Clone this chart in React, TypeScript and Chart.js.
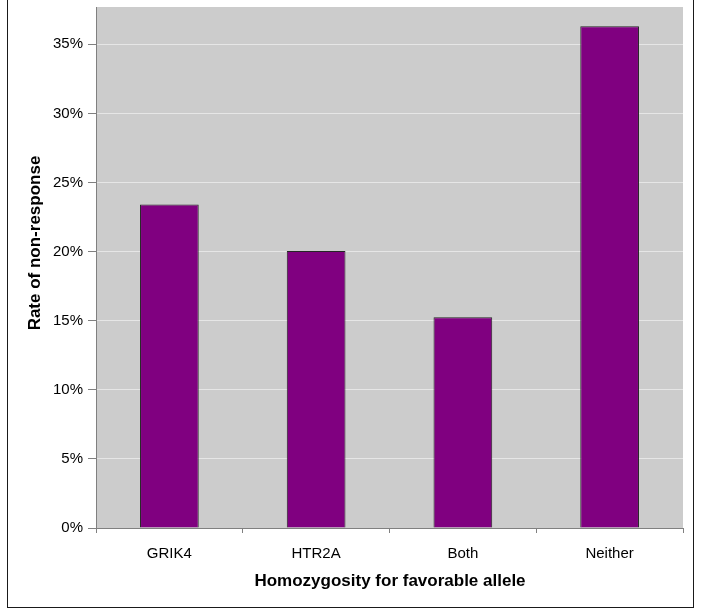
import React, { useEffect, useRef } from "react";
import { Chart, registerables } from "chart.js";

Chart.register(...registerables);

const categories = ["GRIK4", "HTR2A", "Both", "Neither"];
const nonResponseRate = [23.4, 20.05, 15.25, 36.3];
const yTickValues = [0, 5, 10, 15, 20, 25, 30, 35];
const xTitle = "Homozygosity for favorable allele";
const yTitle = "Rate of non-response";

const FONT = "'Liberation Sans', Arial, sans-serif";

const decorPlugin = {
  id: "decor",
  beforeDraw(chart: any) {
    const { ctx, chartArea } = chart;
    ctx.save();
    ctx.fillStyle = "#fff";
    ctx.fillRect(0, 0, chart.width, chart.height);
    ctx.fillStyle = "#cccccc";
    ctx.fillRect(chartArea.left, chartArea.top, chartArea.right - chartArea.left, chartArea.bottom - chartArea.top);
    ctx.restore();
  },
  afterDraw(chart: any) {
    const { ctx } = chart;
    ctx.save();
    ctx.strokeStyle = "#1a1a1a";
    ctx.lineWidth = 1;
    ctx.strokeRect(7.5, -2, 686, 609.5);
    ctx.fillStyle = "#000";
    ctx.font = "bold 17px " + FONT;
    ctx.textAlign = "center";
    ctx.textBaseline = "middle";
    ctx.fillText(xTitle, 390, 581);
    ctx.translate(35, 243);
    ctx.rotate(-Math.PI / 2);
    ctx.fillText(yTitle, 0, 0);
    ctx.restore();
  },
};

export default function App() {
  const ref = useRef<HTMLCanvasElement>(null);
  useEffect(() => {
    if (!ref.current) return;
    const chart = new Chart(ref.current, {
      type: "bar",
      data: {
        labels: categories,
        datasets: [
          {
            data: nonResponseRate,
            backgroundColor: "#800080",
            borderColor: "#262626",
            borderWidth: 1,
            barPercentage: 0.4,
            categoryPercentage: 1,
          },
        ],
      },
      options: {
        animation: false,
        responsive: false,
        devicePixelRatio: 1,
        layout: { padding: { top: 7, right: 18, left: 0, bottom: 0 } },
        plugins: { legend: { display: false }, tooltip: { enabled: false } },
        scales: {
          x: {
            afterFit: (s: any) => {
              s.height = 88;
              s.paddingLeft = 0;
              s.paddingRight = 0;
            },
            grid: {
              offset: true,
              drawOnChartArea: false,
              drawTicks: true,
              tickLength: 5,
              tickColor: "#808080",
            },
            border: { color: "#808080", width: 1 },
            ticks: { color: "#000", padding: 12, font: { family: FONT, size: 15 } },
          },
          y: {
            min: 0,
            max: 37.7,
            afterFit: (s: any) => {
              s.width = 96;
              s.paddingTop = 0;
              s.paddingBottom = 0;
            },
            afterBuildTicks: (s: any) => {
              s.ticks = yTickValues.map((v) => ({ value: v }));
            },
            grid: {
              color: (c: any) => (c.tick && c.tick.value === 0 ? "rgba(0,0,0,0)" : "#e6e6e6"),
              tickColor: "#808080",
              tickLength: 8,
            },
            border: { color: "#808080", width: 1 },
            ticks: {
              color: "#000",
              padding: 5,
              font: { family: FONT, size: 15 },
              callback: (v: any) => v + "%",
            },
          },
        },
      },
      plugins: [decorPlugin],
    });
    return () => chart.destroy();
  }, []);
  return (
    <div style={{ position: "absolute", left: 0, top: 0, width: 701, height: 616, background: "#fff" }}>
      <canvas ref={ref} width={701} height={616} style={{ display: "block" }} />
    </div>
  );
}
